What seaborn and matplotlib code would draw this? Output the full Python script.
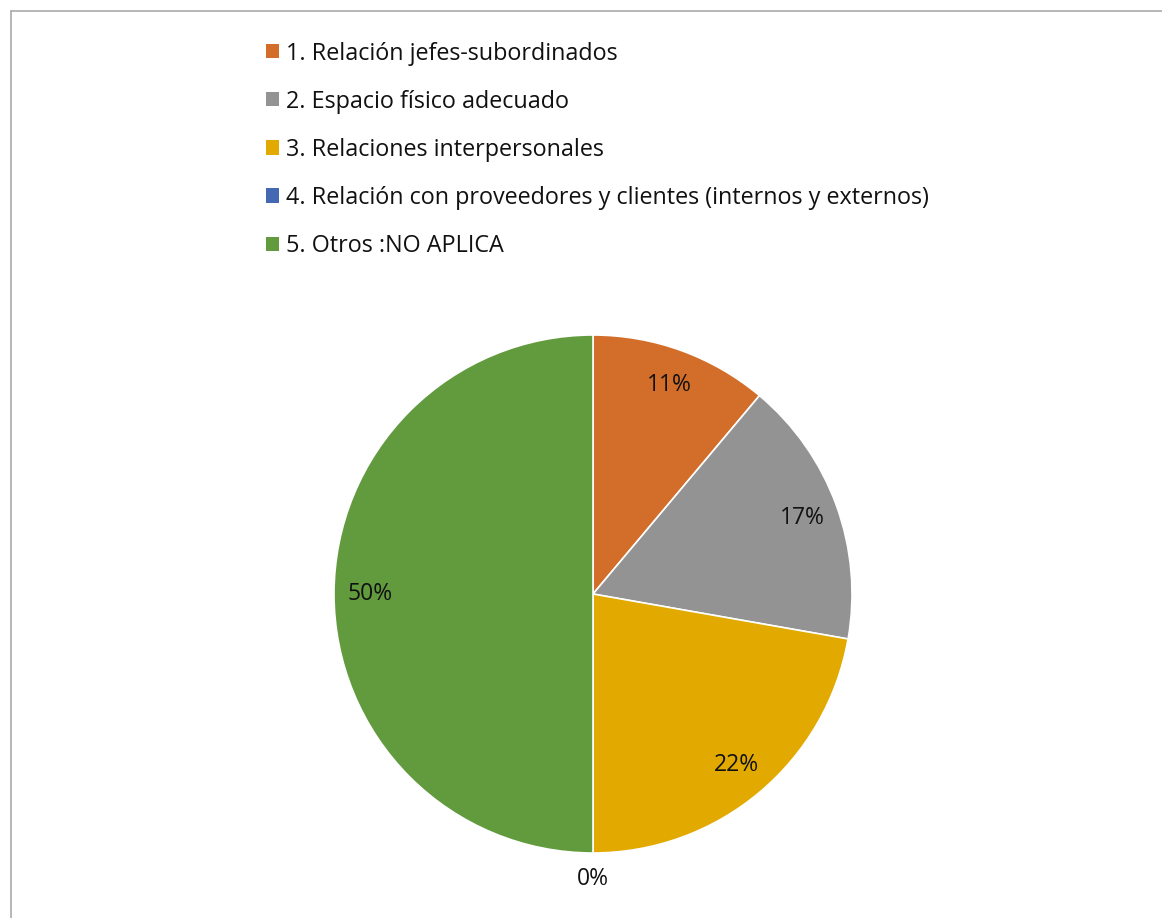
import matplotlib
matplotlib.use("Agg")
import matplotlib.pyplot as plt
from matplotlib.lines import Line2D
from matplotlib.patches import Patch
import seaborn as sns
import numpy as np

categories = [
    "1. Relación jefes-subordinados",
    "2. Espacio físico adecuado",
    "3. Relaciones interpersonales",
    "4. Relación con proveedores y clientes (internos y externos)",
    "5. Otros :NO APLICA",
]
values = [2, 3, 4, 0, 9]
colors = ["#D36E2A", "#939393", "#E2AA00", "#4468B2", "#629A3E"]

sns.set_theme(style="white")
plt.rcParams["font.family"] = ["Open Sans", "DejaVu Sans"]
plt.rcParams["text.color"] = "#111111"
palette = sns.color_palette(colors)

W, H = 1162, 918
fig = plt.figure(figsize=(W / 100, H / 100), dpi=100)
fig.patch.set_facecolor("white")

cx, cy, r = 593, 594, 259
ax = fig.add_axes([(cx - r) / W, (H - cy - r) / H, 2 * r / W, 2 * r / H])
wedges, texts, autotexts = ax.pie(
    values, colors=palette, startangle=90, counterclock=False,
    autopct=lambda p: f"{p:.0f}%", pctdistance=0.86,
    wedgeprops=dict(edgecolor="white", linewidth=1.2),
    textprops=dict(fontsize=16.5, color="#111111"),
)
# move zero-value label outside
for w, t, v in zip(wedges, autotexts, values):
    if v == 0:
        ang = np.deg2rad((w.theta1 + w.theta2) / 2)
        t.set_position((1.10 * np.cos(ang), 1.10 * np.sin(ang)))
ax.set_xlim(-1, 1)
ax.set_ylim(-1, 1)
ax.set_aspect("equal")
ax.axis("off")

handles = [Patch(facecolor=c, edgecolor="none") for c in palette]
fig.legend(handles, categories, loc="upper left",
           bbox_to_anchor=(254 / W, 1 - 30 / H), frameon=False,
           fontsize=16.8, handlelength=0.55, handleheight=0.55,
           handletextpad=0.3, labelspacing=1.03, borderpad=0,
           labelcolor="#111111")

# chart frame (partial border)
bx = 10.5 / W
by = 1 - 11 / H
fig.add_artist(Line2D([bx, bx], [0, by], transform=fig.transFigure, color="#AAAAAA", lw=1.2))
fig.add_artist(Line2D([bx, 1], [by, by], transform=fig.transFigure, color="#AAAAAA", lw=1.2))

fig.savefig("out.png", dpi=100, facecolor="white")
